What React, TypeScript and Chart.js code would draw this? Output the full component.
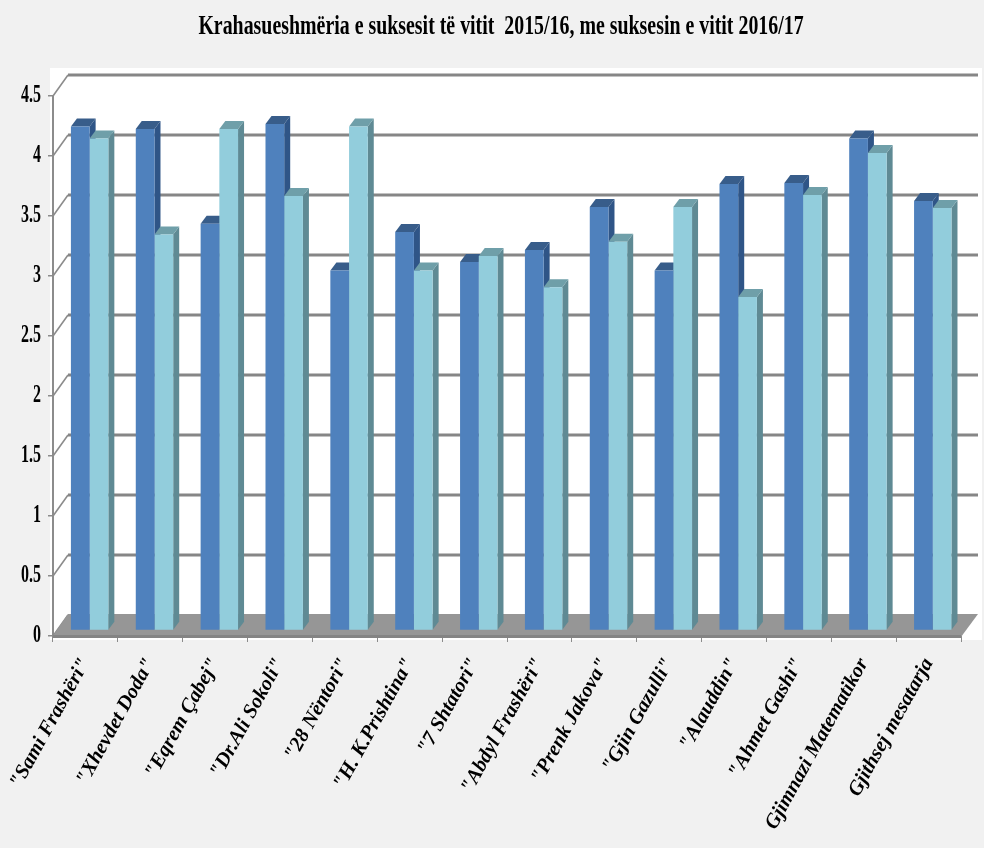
import React, { useEffect, useRef } from "react";
import { Chart, registerables } from "chart.js";

Chart.register(...registerables);

const categories = ['"Sami Frashëri"', '"Xhevdet Doda"', '"Eqrem Çabej"', '"Dr.Ali Sokoli"', '"28 Nëntori"', '"H. K.Prishtina"', '"7 Shtatori"', '"Abdyl Frashëri"', '"Prenk Jakova"', '"Gjin Gazulli"', '"Alauddin"', '"Ahmet Gashi"', "Gjimnazi Matematikor", "Gjithsej mesatarja"];
const series2015 = [4.2, 4.18, 3.39, 4.22, 3.0, 3.32, 3.07, 3.17, 3.53, 3.0, 3.72, 3.73, 4.1, 3.58];
const series2016 = [4.1, 3.3, 4.18, 3.62, 4.2, 3.0, 3.12, 2.86, 3.24, 3.53, 2.78, 3.63, 3.98, 3.52];
const titleText = "Krahasueshmëria e suksesit të vitit  2015/16, me suksesin e vitit 2016/17";

const FACE_COLORS = [
  { front: "#4f81bd", top: "#385d8a", side: "#2f5587" },
  { front: "#92cddc", top: "#6f9fa9", side: "#5f8a94" },
];
const WALL = { dx: 15, dy: 21 };
const BAR = { dx: 4.2, dy: 5.5, depthX: 6, depthY: 8 };

const scene3d = {
  id: "scene3d",
  beforeDraw(chart: any) {
    const c = chart.ctx;
    c.save();
    c.fillStyle = "#ffffff";
    c.fillRect(50, 68, 932, 572);
    c.restore();
  },
  afterLayout(chart: any) {
    if (chart.$wrapped) return;
    chart.$wrapped = true;
    const c = chart.ctx;
    const y = chart.scales.y;
    const drawLabels = y.drawLabels;
    y.drawLabels = function (area: any) {
      c.save();
      c.translate(41, 0);
      c.scale(0.64, 1);
      c.translate(-41, 0);
      drawLabels.call(this, area);
      c.restore();
    };
    const tb = chart.titleBlock;
    const drawTitle = tb.draw;
    tb.draw = function () {
      c.save();
      c.translate(501, 0);
      c.scale(0.71, 1);
      c.translate(-480.5, 0);
      drawTitle.call(this);
      c.restore();
    };
  },
  beforeDatasetsDraw(chart: any) {
    const c = chart.ctx;
    const { left, right } = chart.chartArea;
    const yS = chart.scales.y;
    const y0 = yS.getPixelForValue(0);
    c.save();
    yS.ticks.forEach((t: any) => {
      const p = yS.getPixelForValue(t.value);
      c.strokeStyle = "#8c8c8c";
      c.lineWidth = 1.6;
      c.beginPath();
      c.moveTo(left, p);
      c.lineTo(left + WALL.dx, p - WALL.dy);
      c.stroke();
      if (t.value > 0) {
        c.strokeStyle = "#868686";
        c.lineWidth = 3;
        c.beginPath();
        c.moveTo(left + WALL.dx, p - WALL.dy);
        c.lineTo(right + 17, p - WALL.dy);
        c.stroke();
      }
    });
    c.fillStyle = "#969696";
    c.beginPath();
    c.moveTo(left, y0);
    c.lineTo(left + WALL.dx, y0 - WALL.dy - 1);
    c.lineTo(right + 17, y0 - WALL.dy - 1);
    c.lineTo(right, y0 + 1);
    c.closePath();
    c.fill();
    c.fillStyle = "#848484";
    c.fillRect(left, y0 - 1, right - left, 3);
    [0, 1].forEach((d) => {
      const colors = FACE_COLORS[d];
      chart.getDatasetMeta(d).data.forEach((el: any) => {
        const l = el.x - el.width / 2 + BAR.dx;
        const r = el.x + el.width / 2 + BAR.dx;
        const t = el.y - BAR.dy;
        const b = el.base - BAR.dy;
        c.fillStyle = colors.side;
        c.beginPath();
        c.moveTo(r, t);
        c.lineTo(r + BAR.depthX, t - BAR.depthY);
        c.lineTo(r + BAR.depthX, b - BAR.depthY);
        c.lineTo(r, b);
        c.closePath();
        c.fill();
        c.fillStyle = colors.top;
        c.beginPath();
        c.moveTo(l, t);
        c.lineTo(l + BAR.depthX, t - BAR.depthY);
        c.lineTo(r + BAR.depthX, t - BAR.depthY);
        c.lineTo(r, t);
        c.closePath();
        c.fill();
      });
    });
    c.restore();
    c.save();
    c.translate(BAR.dx, -BAR.dy);
  },
  afterDatasetsDraw(chart: any) {
    chart.ctx.restore();
  },
};

export default function App() {
  const ref = useRef<HTMLCanvasElement>(null);
  useEffect(() => {
    const chart = new Chart(ref.current!, {
      type: "bar",
      data: {
        labels: categories,
        datasets: [
          { label: "2015/16", data: series2015, backgroundColor: FACE_COLORS[0].front, clip: false },
          { label: "2016/17", data: series2016, backgroundColor: FACE_COLORS[1].front, clip: false },
        ],
      } as any,
      options: {
        responsive: false,
        animation: false,
        layout: { autoPadding: false, padding: { right: 23, top: 0, left: 0, bottom: 0 } },
        datasets: { bar: { barPercentage: 1, categoryPercentage: 0.577 } },
        plugins: {
          legend: { display: false },
          tooltip: { enabled: false },
          title: {
            display: true,
            text: titleText,
            color: "#000",
            font: { family: "'Liberation Serif'", size: 28, weight: "bold" },
            padding: { top: 10, bottom: 52.4 },
          },
        },
        scales: {
          x: {
            afterFit(s: any) { s.height = 212; },
            grid: { display: true, drawOnChartArea: false, color: "#8c8c8c", tickLength: 6, lineWidth: 1 },
            border: { display: false },
            ticks: {
              autoSkip: false,
              minRotation: 61,
              maxRotation: 61,
              color: "#000",
              padding: 12,
              font: { family: "'Liberation Serif'", size: 20.5, weight: "bold", style: "italic" },
            },
          },
          y: {
            min: 0,
            max: 4.5,
            afterFit(s: any) { s.width = 53; },
            grid: { display: true, drawOnChartArea: false, color: "#8c8c8c", tickLength: 5, lineWidth: 1.5 },
            border: { display: true, color: "#8c8c8c", width: 2 },
            ticks: {
              stepSize: 0.5,
              color: "#000",
              padding: 7,
              callback: (v: any) => String(v),
              font: { family: "'Liberation Serif'", size: 25, weight: "bold" },
            },
          },
        },
      },
      plugins: [scene3d],
    } as any);
    return () => chart.destroy();
  }, []);
  return (
    <div style={{ position: "fixed", inset: 0, background: "#f1f1f1" }}>
      <canvas ref={ref} width={984} height={848} style={{ display: "block" }} />
    </div>
  );
}
